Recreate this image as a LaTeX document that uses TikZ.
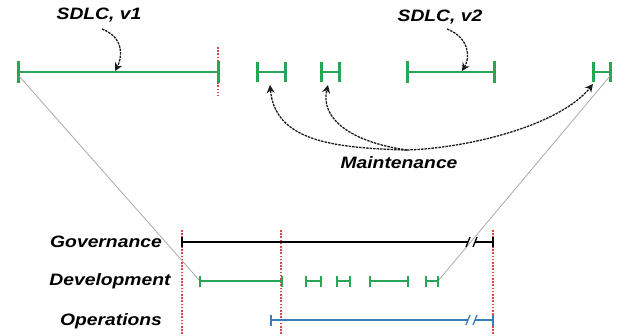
\documentclass[tikz,border=0pt]{standalone}
\usepackage{fontspec}
\newfontfamily\lblfont{Liberation Sans}[FakeStretch=1.17]
\usetikzlibrary{arrows.meta}
\definecolor{sgreen}{RGB}{40,165,85}
\definecolor{sblue}{RGB}{55,125,185}
\definecolor{sred}{RGB}{220,70,70}
\definecolor{sgray}{RGB}{170,170,170}
% segment with end ticks: colour, line width, tick half height, tick width, from, to
\newcommand\myseg[6]{%
  \draw[#1, line width=#2] (#5) -- (#6);
  \draw[#1, line width=#4] ([yshift=-#3]#5) -- ([yshift=#3]#5);
  \draw[#1, line width=#4] ([yshift=-#3]#6) -- ([yshift=#3]#6);}
\begin{document}
\begin{tikzpicture}[x=1pt,y=-1pt,
  lbl/.style={font=\lblfont\bfseries\itshape\fontsize{16.5}{18}\selectfont, inner sep=0pt, text=black},
  reddot/.style={draw=sred, line width=1.2pt, dash pattern=on 1.6pt off 1.6pt},
  ptr/.style={draw=black!90, line width=1.3pt, dash pattern=on 2.5pt off 1pt, -{Stealth[length=8pt,width=8pt]}},
  proj/.style={draw=sgray, line width=0.8pt},
  brk/.style={line width=1.3pt}
]
\useasboundingbox (0,0) rectangle (624,335);

% top row
\coordinate (v1a) at (18,72);   \coordinate (v1b) at (218,72);
\coordinate (m1a) at (257,72);  \coordinate (m1b) at (285,72);
\coordinate (m2a) at (321,72);  \coordinate (m2b) at (339,72);
\coordinate (v2a) at (407,72);  \coordinate (v2b) at (494,72);
\coordinate (m3a) at (593,72);  \coordinate (m3b) at (610,72);
\coordinate (rt1) at (218,47); \coordinate (rt2) at (218,96);
\draw[reddot] (rt1) -- (rt2);
\myseg{sgreen}{2.5pt}{11pt}{3pt}{v1a}{v1b}
\myseg{sgreen}{2.5pt}{10pt}{3pt}{m1a}{m1b}
\myseg{sgreen}{2.5pt}{10pt}{3pt}{m2a}{m2b}
\myseg{sgreen}{2.5pt}{11pt}{3pt}{v2a}{v2b}
\myseg{sgreen}{2.5pt}{10pt}{3pt}{m3a}{m3b}

% labels
\node[lbl] (sd1) at (99,15) {SDLC, v1};
\node[lbl] (sd2) at (440,17) {SDLC, v2};
\node[lbl] (mnt) at (399,163) {Maintenance};

\coordinate (p1s) at (102,29); \coordinate (p1e) at (115,71);
\draw[ptr] (p1s) .. controls (125,38) and (122,58) .. (p1e);
\coordinate (p2s) at (447,29); \coordinate (p2e) at (462,71);
\draw[ptr] (p2s) .. controls (470,38) and (470,58) .. (p2e);
\coordinate (mo) at (407,150);
\coordinate (ma1) at (270,85); \coordinate (ma2) at (328,85); \coordinate (ma3) at (593,84);
\draw[ptr] (mo) .. controls (330,148) and (275,140) .. (ma1);
\draw[ptr] (mo) .. controls (350,142) and (320,118) .. (ma2);
\draw[ptr] (mo) .. controls (470,148) and (560,125) .. (ma3);

% bottom rows
\node[lbl] (gov) at (106,242) {Governance};
\node[lbl] (dev) at (110,281) {Development};
\node[lbl] (ops) at (111,321) {Operations};

% red dotted
\coordinate (r1a) at (182,230); \coordinate (r1b) at (182,335);
\coordinate (r2a) at (281,230); \coordinate (r2b) at (281,335);
\coordinate (r3a) at (493,230); \coordinate (r3b) at (493,335);
\draw[reddot] (r1a) -- (r1b);
\draw[reddot] (r2a) -- (r2b);
\draw[reddot] (r3a) -- (r3b);

% projection lines
\coordinate (pj1) at (19,76); \coordinate (pj2) at (610,76);
\coordinate (d1a) at (200,281); \coordinate (d5b) at (438,281);
\draw[proj] (pj1) -- (d1a);
\draw[proj] (pj2) -- (d5b);

% governance
\coordinate (ga) at (182,242); \coordinate (gb) at (468,242);
\coordinate (gc) at (475,242); \coordinate (gd) at (493,242);
\draw[brk, black] (ga) -- (gb);
\draw[brk, black] (gc) -- (gd);
\draw[black, line width=1.6pt] ([yshift=-5]ga) -- ([yshift=5]ga);
\draw[black, line width=1.6pt] ([yshift=-5]gd) -- ([yshift=5]gd);
\draw[brk, black] ([shift={(-2,5)}]gb) -- ([shift={(2,-5)}]gb);
\draw[brk, black] ([shift={(-2,5)}]gc) -- ([shift={(2,-5)}]gc);

% operations
\coordinate (oa) at (271,320); \coordinate (ob) at (468,320);
\coordinate (oc) at (475,320); \coordinate (od) at (493,320);
\draw[sblue, line width=1.7pt] (oa) -- (ob);
\draw[sblue, line width=1.7pt] (oc) -- (od);
\draw[sblue, line width=2.4pt] ([yshift=-5.5]oa) -- ([yshift=5.5]oa);
\draw[sblue, line width=2.4pt] ([yshift=-5.5]od) -- ([yshift=5.5]od);
\draw[brk, sblue] ([shift={(-2,5)}]ob) -- ([shift={(2,-5)}]ob);
\draw[brk, sblue] ([shift={(-2,5)}]oc) -- ([shift={(2,-5)}]oc);

% development
\coordinate (d1b) at (282,281);
\coordinate (d2a) at (306,281); \coordinate (d2b) at (321,281);
\coordinate (d3a) at (337,281); \coordinate (d3b) at (350,281);
\coordinate (d4a) at (370,281); \coordinate (d4b) at (408,281);
\coordinate (d5a) at (426,281);
\myseg{sgreen}{2.2pt}{5.5pt}{2.8pt}{d1a}{d1b}
\myseg{sgreen}{2.2pt}{5.5pt}{2.8pt}{d2a}{d2b}
\myseg{sgreen}{2.2pt}{5.5pt}{2.8pt}{d3a}{d3b}
\myseg{sgreen}{2.2pt}{5.5pt}{2.8pt}{d4a}{d4b}
\myseg{sgreen}{2.2pt}{5.5pt}{2.8pt}{d5a}{d5b}
\end{tikzpicture}
\end{document}
